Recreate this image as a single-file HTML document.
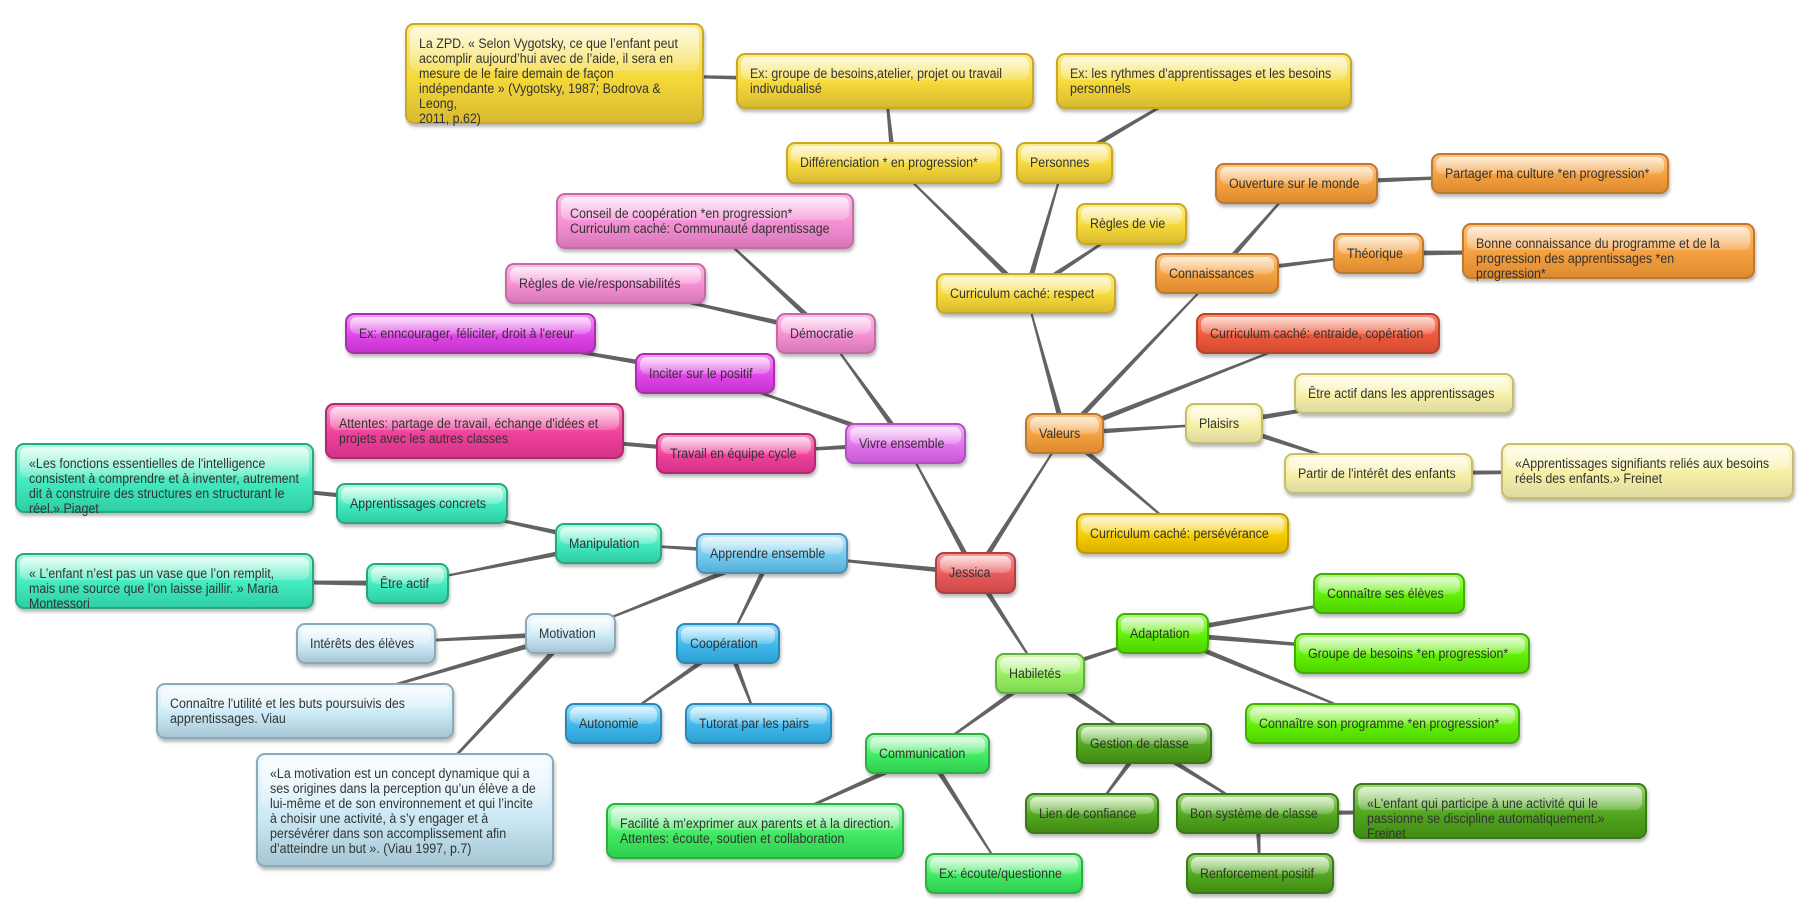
<!DOCTYPE html>
<html><head><meta charset="utf-8">
<style>
html,body{margin:0;padding:0;background:#fff;}
body{width:1815px;height:904px;position:relative;overflow:hidden;}
svg{position:absolute;left:0;top:0;}
.n{position:absolute;box-sizing:border-box;border:2px solid var(--b);border-radius:9px;
background:linear-gradient(var(--t),var(--m) 55%,var(--d));
box-shadow:1px 3px 3px rgba(0,0,0,.28);padding:11px 0 0 12px;
font:13.5px/15px "Liberation Sans",Arial,sans-serif;color:#333;white-space:nowrap;}
.n::before{content:"";position:absolute;left:3px;right:3px;top:2px;height:45%;border-radius:7px;
background:linear-gradient(rgba(255,255,255,.72),rgba(255,255,255,.18));}
.n span{position:relative;display:inline-block;transform:scaleX(0.92);transform-origin:0 0;}
.y{--b:#c9a825;--t:#fbeb8a;--m:#f5d93a;--d:#d8ba30;}
.g{--b:#c39a00;--t:#fbe070;--m:#f6cd00;--d:#dab000;}
.o{--b:#c0782a;--t:#fcc27e;--m:#f3a040;--d:#de8a30;}
.r{--b:#b8442c;--t:#fb8a6e;--m:#ec5a3c;--d:#d64a30;}
.py{--b:#c6be6c;--t:#fcf8c8;--m:#f6f0a4;--d:#dedaa0;}
.pk{--b:#c66aa6;--t:#fbbce6;--m:#f48fd4;--d:#d678b8;}
.mg{--b:#a830b0;--t:#f296f2;--m:#e046e8;--d:#c634ce;}
.vi{--b:#b050c4;--t:#f4b0f6;--m:#e274ea;--d:#c85ad6;}
.hp{--b:#b02a70;--t:#fb8cc2;--m:#ef429a;--d:#d43288;}
.rd{--b:#b04040;--t:#f89494;--m:#e65a5a;--d:#ce4848;}
.lb{--b:#4a90b8;--t:#bfe8fc;--m:#76cbf0;--d:#58afd6;}
.bl{--b:#2a88b8;--t:#9cdcfc;--m:#40b8ec;--d:#30a0d2;}
.pb{--b:#8aaab8;--t:#eef9ff;--m:#cdeaf6;--d:#a6c6d4;}
.tl{--b:#28a880;--t:#a8fadc;--m:#42eac0;--d:#30cea4;}
.lg{--b:#60b040;--t:#ccfaa4;--m:#98ee62;--d:#80d650;}
.bg{--b:#40b000;--t:#aef878;--m:#60f004;--d:#50d400;}
.gr{--b:#28b040;--t:#a8f8b8;--m:#42ea62;--d:#30ce50;}
.dg{--b:#3a7818;--t:#9cd676;--m:#52a620;--d:#428c14;}
</style></head>
<body>
<svg id="cx" width="1815" height="904" xmlns="http://www.w3.org/2000/svg">
<g stroke="#636363" stroke-width="3.5" stroke-linecap="round">
<line x1="975.5" y1="573.5" x2="905.5" y2="443.5"/>
<line x1="975.5" y1="573.5" x2="1064.5" y2="433.5"/>
<line x1="975.5" y1="573.5" x2="772" y2="553.5"/>
<line x1="975.5" y1="573.5" x2="1040" y2="673.5"/>
<line x1="905.5" y1="443.5" x2="826" y2="333.5"/>
<line x1="905.5" y1="443.5" x2="705" y2="373.5"/>
<line x1="905.5" y1="443.5" x2="736" y2="453.5"/>
<line x1="826" y1="333.5" x2="705" y2="221"/>
<line x1="826" y1="333.5" x2="605.5" y2="283.5"/>
<line x1="705" y1="373.5" x2="470.5" y2="333.5"/>
<line x1="736" y1="453.5" x2="474.5" y2="431"/>
<line x1="1064.5" y1="433.5" x2="1026" y2="293.5"/>
<line x1="1064.5" y1="433.5" x2="1217" y2="273.5"/>
<line x1="1064.5" y1="433.5" x2="1318" y2="333.5"/>
<line x1="1064.5" y1="433.5" x2="1224" y2="423.5"/>
<line x1="1064.5" y1="433.5" x2="1182.5" y2="533.5"/>
<line x1="1026" y1="293.5" x2="893.5" y2="163.5"/>
<line x1="1026" y1="293.5" x2="1064" y2="163.5"/>
<line x1="1026" y1="293.5" x2="1131.5" y2="224"/>
<line x1="893.5" y1="163.5" x2="885" y2="81"/>
<line x1="885" y1="81" x2="554.5" y2="73.5"/>
<line x1="1064" y1="163.5" x2="1204" y2="81"/>
<line x1="1217" y1="273.5" x2="1296.5" y2="183.5"/>
<line x1="1217" y1="273.5" x2="1378.5" y2="253.5"/>
<line x1="1296.5" y1="183.5" x2="1550" y2="173.5"/>
<line x1="1378.5" y1="253.5" x2="1608.5" y2="251"/>
<line x1="1224" y1="423.5" x2="1404" y2="393.5"/>
<line x1="1224" y1="423.5" x2="1378.5" y2="473.5"/>
<line x1="1378.5" y1="473.5" x2="1647.5" y2="471"/>
<line x1="772" y1="553.5" x2="608.5" y2="543.5"/>
<line x1="772" y1="553.5" x2="570.5" y2="633.5"/>
<line x1="772" y1="553.5" x2="728" y2="643.5"/>
<line x1="608.5" y1="543.5" x2="422" y2="503.5"/>
<line x1="608.5" y1="543.5" x2="407.5" y2="583.5"/>
<line x1="422" y1="503.5" x2="164.5" y2="478"/>
<line x1="407.5" y1="583.5" x2="164.5" y2="581"/>
<line x1="570.5" y1="633.5" x2="366" y2="643.5"/>
<line x1="570.5" y1="633.5" x2="305" y2="711"/>
<line x1="570.5" y1="633.5" x2="405" y2="810"/>
<line x1="728" y1="643.5" x2="613.5" y2="723.5"/>
<line x1="728" y1="643.5" x2="758.5" y2="723.5"/>
<line x1="1040" y1="673.5" x2="1162.5" y2="633.5"/>
<line x1="1040" y1="673.5" x2="1144" y2="743.5"/>
<line x1="1040" y1="673.5" x2="927.5" y2="753.5"/>
<line x1="1162.5" y1="633.5" x2="1389" y2="593.5"/>
<line x1="1162.5" y1="633.5" x2="1412" y2="653.5"/>
<line x1="1162.5" y1="633.5" x2="1382.5" y2="723.5"/>
<line x1="1144" y1="743.5" x2="1092" y2="813.5"/>
<line x1="1144" y1="743.5" x2="1257.5" y2="813.5"/>
<line x1="1257.5" y1="813.5" x2="1500" y2="811"/>
<line x1="1257.5" y1="813.5" x2="1260" y2="873.5"/>
<line x1="927.5" y1="753.5" x2="755" y2="831"/>
<line x1="927.5" y1="753.5" x2="1004" y2="873.5"/>
</g>
</svg>

<div class="n y" style="left:405px;top:23px;width:299px;height:101px"><span>La ZPD. « Selon Vygotsky, ce que l’enfant peut<br>accomplir aujourd’hui avec de l’aide, il sera en<br>mesure de le faire demain de façon<br>indépendante » (Vygotsky, 1987; Bodrova &amp;<br>Leong,<br>2011, p.62)</span></div>
<div class="n y" style="left:736px;top:53px;width:298px;height:56px"><span>Ex: groupe de besoins,atelier, projet ou travail<br>indivudualisé</span></div>
<div class="n y" style="left:1056px;top:53px;width:296px;height:56px"><span>Ex: les rythmes d'apprentissages et les besoins<br>personnels</span></div>
<div class="n y" style="left:786px;top:142px;width:216px;height:42px"><span>Différenciation * en progression*</span></div>
<div class="n y" style="left:1016px;top:142px;width:97px;height:42px"><span>Personnes</span></div>
<div class="n y" style="left:1076px;top:203px;width:111px;height:42px"><span>Règles de vie</span></div>
<div class="n y" style="left:936px;top:273px;width:180px;height:41px"><span>Curriculum caché: respect</span></div>

<div class="n pk" style="left:556px;top:193px;width:298px;height:56px"><span>Conseil de coopération *en progression*<br>Curriculum caché: Communauté daprentissage</span></div>
<div class="n pk" style="left:505px;top:263px;width:201px;height:41px"><span>Règles de vie/responsabilités</span></div>
<div class="n pk" style="left:776px;top:313px;width:100px;height:41px"><span>Démocratie</span></div>
<div class="n mg" style="left:345px;top:313px;width:251px;height:41px"><span>Ex: enncourager, féliciter, droit à l'ereur</span></div>
<div class="n mg" style="left:635px;top:353px;width:140px;height:41px"><span>Inciter sur le positif</span></div>
<div class="n hp" style="left:325px;top:403px;width:299px;height:56px"><span>Attentes: partage de travail, échange d'idées et<br>projets avec les autres classes</span></div>
<div class="n hp" style="left:656px;top:433px;width:160px;height:41px"><span>Travail en équipe cycle</span></div>
<div class="n vi" style="left:845px;top:423px;width:121px;height:41px"><span>Vivre ensemble</span></div>

<div class="n o" style="left:1025px;top:413px;width:79px;height:41px"><span>Valeurs</span></div>
<div class="n o" style="left:1155px;top:253px;width:124px;height:41px"><span>Connaissances</span></div>
<div class="n o" style="left:1215px;top:163px;width:163px;height:41px"><span>Ouverture sur le monde</span></div>
<div class="n o" style="left:1431px;top:153px;width:238px;height:41px"><span>Partager ma culture *en progression*</span></div>
<div class="n o" style="left:1333px;top:233px;width:91px;height:41px"><span>Théorique</span></div>
<div class="n o" style="left:1462px;top:223px;width:293px;height:56px"><span>Bonne connaissance du programme et de la<br>progression des apprentissages *en<br>progression*</span></div>
<div class="n r" style="left:1196px;top:313px;width:244px;height:41px"><span>Curriculum caché: entraide, copération</span></div>
<div class="n py" style="left:1185px;top:403px;width:78px;height:41px"><span>Plaisirs</span></div>
<div class="n py" style="left:1294px;top:373px;width:220px;height:41px"><span>Être actif dans les apprentissages</span></div>
<div class="n py" style="left:1284px;top:453px;width:189px;height:41px"><span>Partir de l'intérêt des enfants</span></div>
<div class="n py" style="left:1501px;top:443px;width:293px;height:56px"><span>«Apprentissages signifiants reliés aux besoins<br>réels des enfants.» Freinet</span></div>
<div class="n g" style="left:1076px;top:513px;width:213px;height:41px"><span>Curriculum caché: persévérance</span></div>

<div class="n rd" style="left:935px;top:552px;width:81px;height:42px"><span>Jessica</span></div>

<div class="n lb" style="left:696px;top:533px;width:152px;height:41px"><span>Apprendre ensemble</span></div>
<div class="n tl" style="left:555px;top:523px;width:107px;height:41px"><span>Manipulation</span></div>
<div class="n tl" style="left:336px;top:483px;width:172px;height:41px"><span>Apprentissages concrets</span></div>
<div class="n tl" style="left:15px;top:443px;width:299px;height:70px"><span>«Les fonctions essentielles de l'intelligence<br>consistent à comprendre et à inventer, autrement<br>dit à construire des structures en structurant le<br>réel.» Piaget</span></div>
<div class="n tl" style="left:366px;top:563px;width:83px;height:41px"><span>Être actif</span></div>
<div class="n tl" style="left:15px;top:553px;width:299px;height:56px"><span>« L’enfant n’est pas un vase que l’on remplit,<br>mais une source que l’on laisse jaillir. » Maria<br>Montessori</span></div>
<div class="n pb" style="left:525px;top:613px;width:91px;height:41px"><span>Motivation</span></div>
<div class="n pb" style="left:296px;top:623px;width:140px;height:41px"><span>Intérêts des élèves</span></div>
<div class="n pb" style="left:156px;top:683px;width:298px;height:56px"><span>Connaître l'utilité et les buts poursuivis des<br>apprentissages. Viau</span></div>
<div class="n pb" style="left:256px;top:753px;width:298px;height:114px"><span>«La motivation est un concept dynamique qui a<br>ses origines dans la perception qu’un élève a de<br>lui-même et de son environnement et qui l’incite<br>à choisir une activité, à s’y engager et à<br>persévérer dans son accomplissement afin<br>d’atteindre un but ». (Viau 1997, p.7)</span></div>
<div class="n bl" style="left:676px;top:623px;width:104px;height:41px"><span>Coopération</span></div>
<div class="n bl" style="left:565px;top:703px;width:97px;height:41px"><span>Autonomie</span></div>
<div class="n bl" style="left:685px;top:703px;width:147px;height:41px"><span>Tutorat par les pairs</span></div>

<div class="n lg" style="left:995px;top:653px;width:90px;height:41px"><span>Habiletés</span></div>
<div class="n bg" style="left:1116px;top:613px;width:93px;height:41px"><span>Adaptation</span></div>
<div class="n bg" style="left:1313px;top:573px;width:152px;height:41px"><span>Connaître ses élèves</span></div>
<div class="n bg" style="left:1294px;top:633px;width:236px;height:41px"><span>Groupe de besoins *en progression*</span></div>
<div class="n bg" style="left:1245px;top:703px;width:275px;height:41px"><span>Connaître son programme *en progression*</span></div>
<div class="n dg" style="left:1076px;top:723px;width:136px;height:41px"><span>Gestion de classe</span></div>
<div class="n dg" style="left:1025px;top:793px;width:134px;height:41px"><span>Lien de confiance</span></div>
<div class="n dg" style="left:1176px;top:793px;width:163px;height:41px"><span>Bon système de classe</span></div>
<div class="n dg" style="left:1353px;top:783px;width:294px;height:56px"><span>«L'enfant qui participe à une activité qui le<br>passionne se discipline automatiquement.»<br>Freinet</span></div>
<div class="n dg" style="left:1186px;top:853px;width:148px;height:41px"><span>Renforcement positif</span></div>
<div class="n gr" style="left:865px;top:733px;width:125px;height:41px"><span>Communication</span></div>
<div class="n gr" style="left:606px;top:803px;width:298px;height:56px"><span>Facilité à m'exprimer aux parents et à la direction.<br>Attentes: écoute, soutien et collaboration</span></div>
<div class="n gr" style="left:925px;top:853px;width:158px;height:41px"><span>Ex: écoute/questionne</span></div>

<script>
(function(){
var ns="http://www.w3.org/2000/svg";
var ls=document.querySelectorAll('#cx line');
for(var i=0;i<ls.length;i++){
var l=ls[i];
var x1=+l.getAttribute('x1'),y1=+l.getAttribute('y1'),x2=+l.getAttribute('x2'),y2=+l.getAttribute('y2');
var dx=x2-x1,dy=y2-y1,L=Math.hypot(dx,dy)||1,nx=-dy/L,ny=dx/L,a=2.8,b=0.7;
var p=document.createElementNS(ns,'polygon');
p.setAttribute('points',(x1+nx*a)+','+(y1+ny*a)+' '+(x2+nx*b)+','+(y2+ny*b)+' '+(x2-nx*b)+','+(y2-ny*b)+' '+(x1-nx*a)+','+(y1-ny*a));
p.setAttribute('fill','#636363');p.setAttribute('stroke','none');
l.parentNode.replaceChild(p,l);
}
})();
</script>
</body></html>
